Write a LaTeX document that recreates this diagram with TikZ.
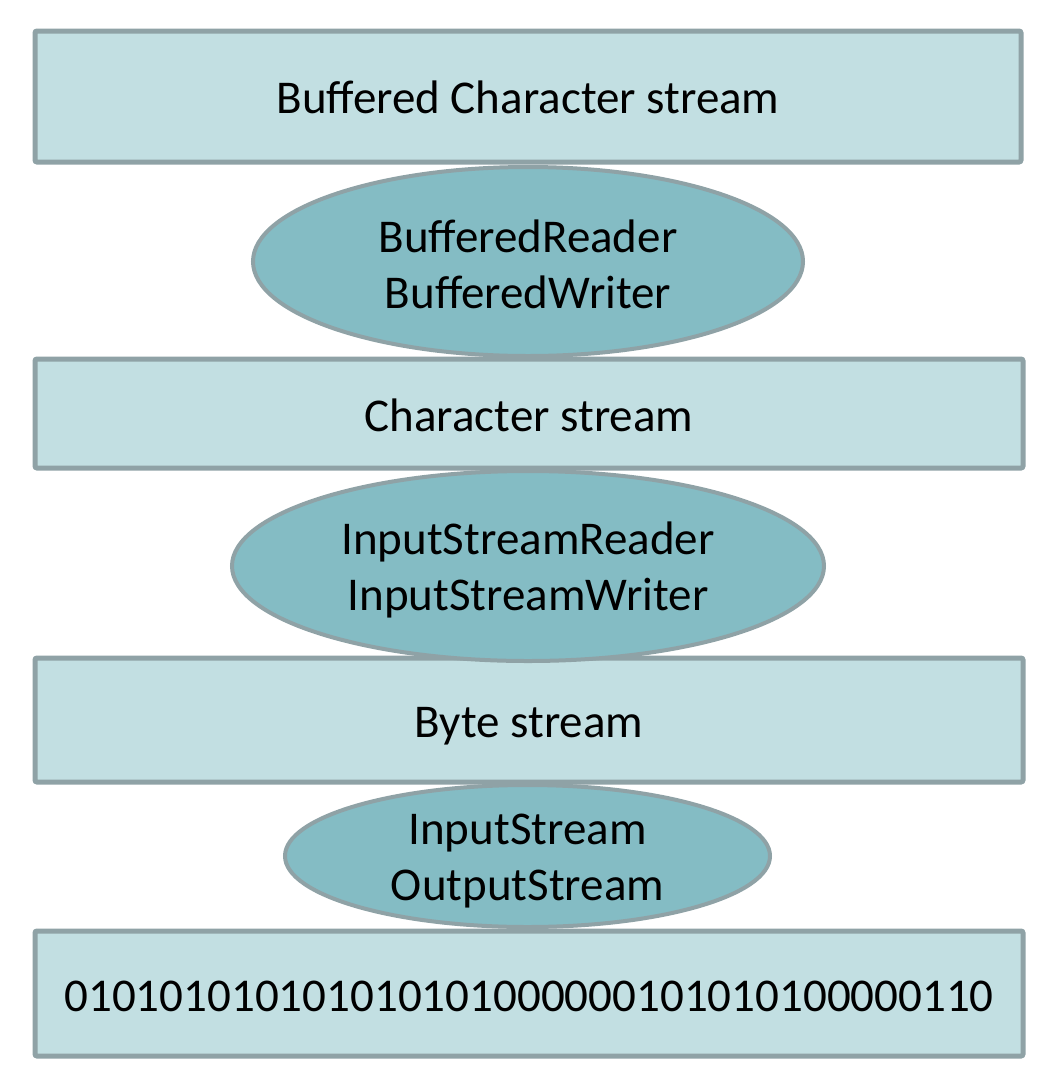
\documentclass[tikz,border=0pt]{standalone}
\usepackage{fontspec}
\setmainfont{Carlito}
\usetikzlibrary{shapes.geometric}
\definecolor{boxfill}{HTML}{C2DFE2}
\definecolor{ellfill}{HTML}{84BCC4}
\definecolor{edge}{HTML}{8FA2A6}
\begin{document}
\begin{tikzpicture}[x=1pt,y=-1pt,
  layerbox/.style={draw=edge, fill=boxfill, line width=5pt, rounded corners=2pt, inner sep=0pt},
  ellbox/.style={draw=edge, fill=ellfill, line width=4pt, ellipse, inner sep=0pt},
  lbl/.style={font=\fontsize{47}{56}\selectfont, align=center, text=black}]
\useasboundingbox (0,0) rectangle (1060,1082);
\fill[white] (0,0) rectangle (1060,1082);
% layers
\node[layerbox, minimum width=986pt, minimum height=131pt] (r1) at (528,96.5) {};
\node[layerbox, minimum width=988pt, minimum height=109pt] (r2) at (529,413.5) {};
\node[layerbox, minimum width=988pt, minimum height=124pt] (r3) at (529,720) {};
\node[layerbox, minimum width=988pt, minimum height=125pt] (r4) at (529,993.5) {};
% ellipses
\node[ellbox, minimum width=550pt, minimum height=189pt] (e1) at (528,261.5) {};
\node[ellbox, minimum width=592pt, minimum height=190pt] (e2) at (528,566) {};
\node[ellbox, minimum width=485pt, minimum height=142pt] (e3) at (527.5,856) {};
% labels
\node[lbl] (t1) at ([yshift=-1pt]r1.center) {Buffered Character stream};
\node[lbl] (t2) at ([yshift=-3pt]e1.center) {BufferedReader\\BufferedWriter};
\node[lbl] (t3) at ([yshift=-2pt]r2.center) {Character stream};
\node[lbl] (t4) at ([yshift=-4pt]e2.center) {InputStreamReader\\InputStreamWriter};
\node[lbl] (t5) at ([yshift=-6pt]r3.center) {Byte stream};
\node[lbl] (t6) at ([yshift=-5pt]e3.center) {InputStream\\OutputStream};
\node[lbl] (t7) at ([yshift=-3pt]r4.center) {010101010101010101000000101010100000110};
\end{tikzpicture}
\end{document}
